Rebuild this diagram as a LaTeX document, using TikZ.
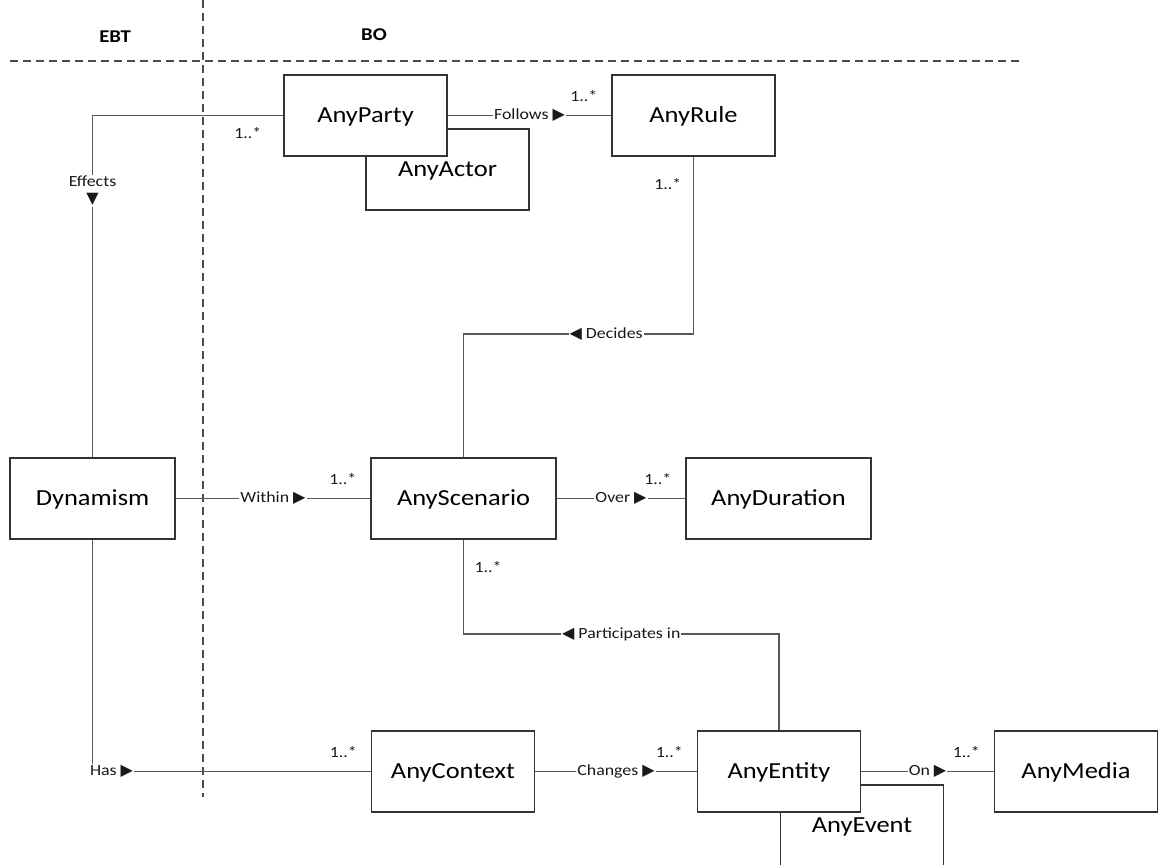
\documentclass[tikz,border=0pt]{standalone}
\usepackage{fontspec}
\setmainfont{Carlito}[FakeStretch=1.15]
\newfontfamily\trifont{DejaVu Sans}
\usetikzlibrary{positioning}
\newcommand{\ToRight}{{\trifont\fontsize{16}{16}\selectfont ▶}}
\newcommand{\ToLeft}{{\trifont\fontsize{16}{16}\selectfont ◀}}
\newcommand{\ToDown}{{\trifont\fontsize{16}{16}\selectfont ▼}}
\newcommand{\Many}{1..*}

\begin{document}
\begin{tikzpicture}[x=1pt,y=-1pt,
  cls/.style={draw=black!80,line width=1.2pt,fill=white,minimum width=163pt,minimum height=81pt,text depth=1pt,font=\fontsize{23}{27}\selectfont,text=black},
  wide/.style={cls,minimum width=185pt},
  conn/.style={draw=black!65,line width=1.2pt},
  lbl/.style={fill=white,inner sep=1pt,font=\fontsize{15.5}{17}\selectfont,text=black!90},
  mult/.style={inner sep=1pt,font=\fontsize{15.5}{17}\selectfont,text=black!90},
  lane/.style={draw=black!70,line width=1.1pt,dash pattern=on 8pt off 5pt},
  head/.style={font=\bfseries\fontsize{18}{21}\selectfont}]
  \useasboundingbox (0,0) rectangle (1160,865);
  \draw[lane] (10,61) -- (1020,61);
  \draw[lane] (203,0) -- (203,797);
  \node[head] (ebt) at (115,37) {EBT};
  \node[head] (bo) at (374,35) {BO};

  \node[cls] (actor) at (447.5,169.5) {AnyActor};
  \node[cls] (party) at (365.5,115.5) {AnyParty};
  \node[cls] (rule) at (693.5,115.5) {AnyRule};
  \node[cls,minimum width=165pt] (dyn) at (92.5,498.5) {Dynamism};
  \node[wide] (scen) at (463.5,498.5) {AnyScenario};
  \node[wide] (dur) at (778.5,498.5) {AnyDuration};
  \node[cls] (ctx) at (453,771.5) {AnyContext};
  \node[cls] (evt) at (862,825.5) {AnyEvent};
  \node[cls] (ent) at (779,771.5) {AnyEntity};
  \node[cls] (media) at (1076,771.5) {AnyMedia};

  \draw[conn] (dyn.north) |- node[lbl,pos=0.39,align=center] {Effects\\\ToDown} (party.west);
  \node[mult,below left=11pt and 21pt of party.west] (m1) {\Many};
  \draw[conn] (party.east) -- node[lbl] {Follows \ToRight} (rule.west);
  \node[mult,above left=13pt and 13pt of rule.west] (m2) {\Many};
  \coordinate (bendA) at (scen.north |- 0,334);
  \draw[conn] (rule.south) |- node[lbl,pos=0.69] {\ToLeft\ Decides} (bendA) -- (scen.north);
  \node[mult,below left=21pt and 11pt of rule.south] (m3) {\Many};
  \draw[conn] (dyn.east) -- node[lbl] {Within \ToRight} (scen.west);
  \node[mult,above left=13pt and 13pt of scen.west] (m4) {\Many};
  \draw[conn] (scen.east) -- node[lbl] {Over \ToRight} (dur.west);
  \node[mult,above left=13pt and 13pt of dur.west] (m5) {\Many};
  \coordinate (bendB) at (scen.south |- 0,634);
  \draw[conn] (scen.south) -- (bendB) -| node[lbl,pos=0.25] {\ToLeft\ Participates in} (ent.north);
  \node[mult,below right=21pt and 10pt of scen.south] (m6) {\Many};
  \draw[conn] (dyn.south) |- node[lbl,pos=0.5,anchor=west,xshift=-4pt] {Has \ToRight} (ctx.west);
  \node[mult,above left=13pt and 13pt of ctx.west] (m7) {\Many};
  \draw[conn] (ctx.east) -- node[lbl] {Changes \ToRight} (ent.west);
  \node[mult,above left=13pt and 13pt of ent.west] (m8) {\Many};
  \draw[conn] (ent.east) -- node[lbl] {On \ToRight} (media.west);
  \node[mult,above left=13pt and 13pt of media.west] (m9) {\Many};
\end{tikzpicture}
\end{document}
